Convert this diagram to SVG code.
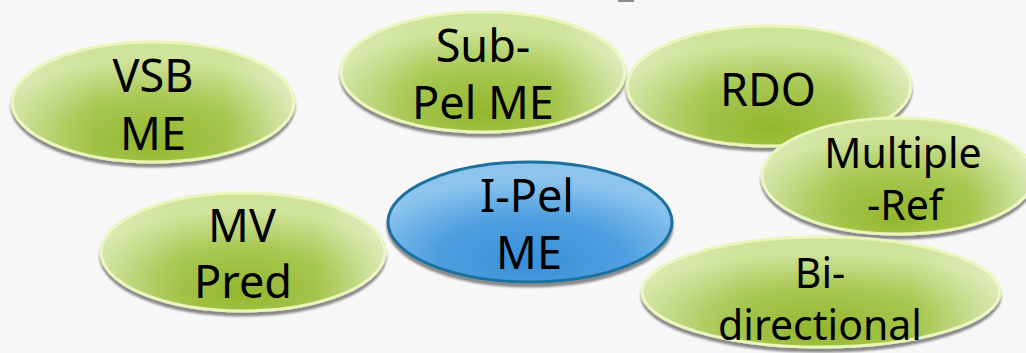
<svg xmlns="http://www.w3.org/2000/svg" width="1026" height="353" viewBox="0 0 1026 353">
  <defs>
    <radialGradient id="greenFill" cx="0.5" cy="0.75" r="0.6" fx="0.5" fy="0.85">
      <stop offset="0" stop-color="#93b62c"/>
      <stop offset="0.55" stop-color="#a8c853"/>
      <stop offset="1" stop-color="#cfe39a"/>
    </radialGradient>
    <linearGradient id="greenSheen" x1="0" y1="0" x2="1" y2="0">
      <stop offset="0" stop-color="#ffffff" stop-opacity="0.25"/>
      <stop offset="0.3" stop-color="#ffffff" stop-opacity="0"/>
      <stop offset="0.75" stop-color="#ffffff" stop-opacity="0"/>
      <stop offset="1" stop-color="#ffffff" stop-opacity="0.35"/>
    </linearGradient>
    <radialGradient id="blueFill" cx="0.5" cy="0.75" r="0.6" fx="0.5" fy="0.85">
      <stop offset="0" stop-color="#3a8fd6"/>
      <stop offset="0.55" stop-color="#4e9fe0"/>
      <stop offset="1" stop-color="#8cc4ee"/>
    </radialGradient>
    <filter id="drop" x="-10%" y="-10%" width="120%" height="130%">
      <feGaussianBlur in="SourceAlpha" stdDeviation="1.2"/>
      <feOffset dx="0" dy="4" result="b"/>
      <feComponentTransfer><feFuncA type="linear" slope="0.45"/></feComponentTransfer>
      <feMerge><feMergeNode/><feMergeNode in="SourceGraphic"/></feMerge>
    </filter>
  </defs>
  <style>
    .green { fill: url(#greenFill); stroke: #eaf6b8; stroke-width: 3; filter: url(#drop); }
    .sheen { fill: url(#greenSheen); stroke: none; }
    .blue { fill: url(#blueFill); stroke: #1f6f9e; stroke-width: 3; filter: url(#drop); }
    .label { font-family: "Noto Sans", "Open Sans", "DejaVu Sans", sans-serif; font-size: 45px; fill: #000; text-anchor: middle; }
    .small { font-size: 41px; }
  </style>

  <rect width="1026" height="353" fill="#f7f7f7"/>
  <rect x="618" y="0" width="16" height="2" fill="#8a8a8a"/>

  <g id="connectors"/>

  <g id="node-vsb">
    <ellipse class="green" cx="153" cy="102" rx="141" ry="60"/>
    <ellipse class="sheen" cx="153" cy="102" rx="141" ry="60"/>
    <text class="label" x="153" y="92">VSB</text>
    <text class="label" x="153" y="150">ME</text>
  </g>

  <g id="node-subpel">
    <ellipse class="green" cx="483" cy="72" rx="142" ry="60"/>
    <ellipse class="sheen" cx="483" cy="72" rx="142" ry="60"/>
    <text class="label" x="483" y="62">Sub-</text>
    <text class="label" x="483" y="119">Pel ME</text>
  </g>

  <g id="node-rdo">
    <ellipse class="green" cx="769" cy="86" rx="142" ry="60"/>
    <ellipse class="sheen" cx="769" cy="86" rx="142" ry="60"/>
    <text class="label" x="768" y="106">RDO</text>
  </g>

  <g id="node-multiref">
    <ellipse class="green" cx="898" cy="176" rx="136" ry="58"/>
    <ellipse class="sheen" cx="898" cy="176" rx="136" ry="58"/>
    <text class="label small" x="903" y="168">Multiple</text>
    <text class="label small" x="905" y="220">-Ref</text>
  </g>

  <g id="node-mvpred">
    <ellipse class="green" cx="243" cy="252" rx="142" ry="59"/>
    <ellipse class="sheen" cx="243" cy="252" rx="142" ry="59"/>
    <text class="label" x="242" y="242">MV</text>
    <text class="label" x="243" y="298">Pred</text>
  </g>

  <g id="node-ipel">
    <ellipse class="blue" cx="530" cy="222" rx="142" ry="60"/>
    <text class="label" x="527" y="212">I-Pel</text>
    <text class="label" x="529" y="269">ME</text>
  </g>

  <g id="node-bidir">
    <ellipse class="green" cx="821" cy="292" rx="179" ry="55"/>
    <ellipse class="sheen" cx="821" cy="292" rx="179" ry="55"/>
    <text class="label small" x="820" y="288">Bi-</text>
    <text class="label small" x="820" y="340">directional</text>
  </g>
</svg>
